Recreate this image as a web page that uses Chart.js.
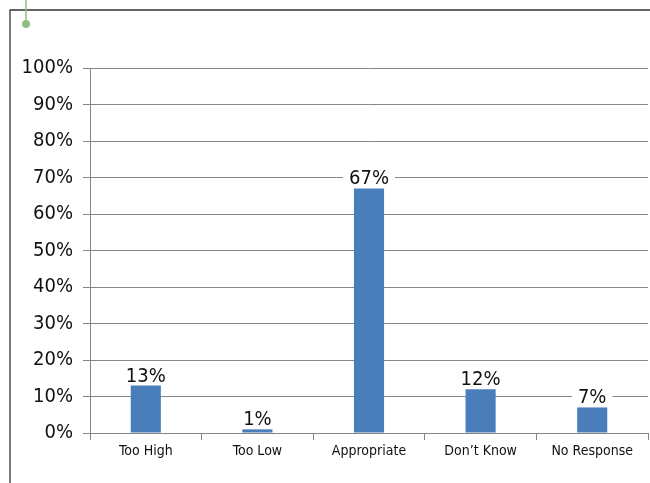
<!DOCTYPE html>
<html lang="en">
<head>
    <meta charset="UTF-8">
    <title>Survey Responses</title>
    <script src="https://cdn.jsdelivr.net/npm/chart.js@4.4.1/dist/chart.umd.min.js"></script>
    <style>
        html, body { margin: 0; padding: 0; background: #fff; }
        .chart-container { position: relative; width: 650px; height: 483px; }
    </style>
</head>
<body>
    <div class="chart-container">
        <canvas id="surveyChart"></canvas>
    </div>

    <script>
        // Chart data
        const categories = ['Too High', 'Too Low', 'Appropriate', 'Don\u2019t Know', 'No Response'];
        const responseShare = [13, 1, 67, 12, 7];
        const yTickValues = [0, 10, 20, 30, 40, 50, 60, 70, 80, 90, 100];

        const fontFamily = '"Liberation Sans Narrow", "DejaVu Sans Condensed", "Liberation Sans", sans-serif';
        const gridGray = '#858585';

        // Frame around the chart plus the small green marker top-left
        const framePlugin = {
            id: 'frame',
            beforeDraw(chart) {
                const ctx = chart.ctx;
                ctx.save();
                ctx.strokeStyle = '#333';
                ctx.lineWidth = 1.3;
                ctx.beginPath();
                ctx.moveTo(10, 483);
                ctx.lineTo(10, 10);
                ctx.lineTo(650, 10);
                ctx.stroke();

                ctx.strokeStyle = '#8fbf7e';
                ctx.fillStyle = '#8fbf7e';
                ctx.lineWidth = 1.5;
                ctx.beginPath();
                ctx.moveTo(26, 0);
                ctx.lineTo(26, 22);
                ctx.stroke();
                ctx.beginPath();
                ctx.arc(26, 24, 4, 0, Math.PI * 2);
                ctx.fill();
                ctx.restore();
            }
        };

        // Value labels above each bar, on a white box that hides the gridline behind
        const valueLabelPlugin = {
            id: 'valueLabels',
            afterDatasetsDraw(chart) {
                const ctx = chart.ctx;
                const meta = chart.getDatasetMeta(0);
                ctx.save();
                ctx.font = '20px ' + fontFamily;
                ctx.textAlign = 'center';
                ctx.textBaseline = 'alphabetic';
                meta.data.forEach((bar, i) => {
                    const text = responseShare[i] + '%';
                    const w = ctx.measureText(text).width;
                    const baseY = bar.y - 4;
                    ctx.fillStyle = '#fff';
                    ctx.fillRect(bar.x - w / 2 - 6, baseY - 17, w + 12, 18);
                    ctx.fillStyle = '#111';
                    ctx.fillText(text, bar.x, baseY);
                });
                ctx.restore();
            }
        };

        const ctx = document.getElementById('surveyChart').getContext('2d');
        new Chart(ctx, {
            type: 'bar',
            data: {
                labels: categories,
                datasets: [{
                    data: responseShare,
                    backgroundColor: '#4a7ebb',
                    barPercentage: 0.27,
                    categoryPercentage: 1.0
                }]
            },
            options: {
                responsive: true,
                maintainAspectRatio: false,
                animation: false,
                layout: { padding: { left: 0, right: 2, top: 68, bottom: 0 } },
                plugins: {
                    legend: { display: false },
                    tooltip: { enabled: false }
                },
                scales: {
                    x: {
                        grid: {
                            offset: true,
                            drawOnChartArea: false,
                            tickLength: 7,
                            color: gridGray
                        },
                        border: { color: gridGray },
                        ticks: {
                            color: '#111',
                            padding: 3,
                            maxRotation: 0,
                            font: { family: fontFamily, size: 14 }
                        },
                        afterFit(scale) { scale.height = 50; }
                    },
                    y: {
                        min: 0,
                        max: 100,
                        afterBuildTicks(scale) {
                            scale.ticks = yTickValues.map(v => ({ value: v }));
                        },
                        grid: { color: gridGray, tickLength: 7 },
                        border: { color: gridGray },
                        ticks: {
                            color: '#111',
                            padding: 10,
                            callback: v => v + '%',
                            font: { family: fontFamily, size: 20 }
                        },
                        afterFit(scale) { scale.width = 90; }
                    }
                }
            },
            plugins: [framePlugin, valueLabelPlugin]
        });
    </script>
</body>
</html>
